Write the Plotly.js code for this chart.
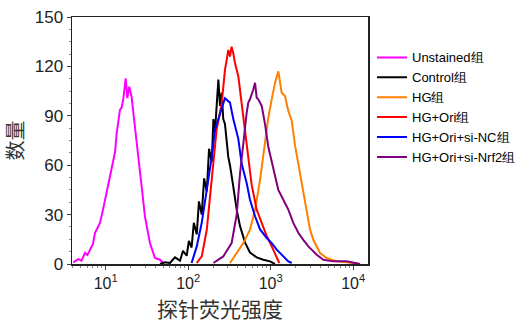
<!DOCTYPE html>
<html>
<head>
<meta charset="utf-8">
<script src="https://cdn.plot.ly/plotly-3.0.1.min.js"></script>
<style>
html,body{margin:0;padding:0;background:#fff;}
#chart{width:518px;height:325px;}
</style>
</head>
<body>
<div id="chart"></div>
<script>
// Series names
const seriesNames = ["Unstained组", "Control组", "HG组", "HG+Ori组", "HG+Ori+si-NC组", "HG+Ori+si-Nrf2组"];
const seriesColors = ["#ff00ff", "#000000", "#ff8000", "#ff0000", "#0000ff", "#800080"];

// X tick labels
const xTickVals = [10, 100, 1000, 10000];
const xTickText = ["10<sup>1</sup>", "10<sup>2</sup>", "10<sup>3</sup>", "10<sup>4</sup>"];
const xTitle = "探针荧光强度";
const yTitle = "数量";

// Unstained (magenta)
const unstainedX = [4.05, 4.66, 5.1, 5.61, 6.0, 6.45, 7.0, 7.42, 8.0, 8.53, 9.2, 9.81, 10.5, 11.3, 12.4, 13.0, 13.6, 14.9, 15.6, 16.3, 17.5, 18.3, 19.3, 20.6, 22.6, 24.8, 27.3, 29.9, 34.4, 39.6, 45.5, 49.9];
const unstainedY = [1, 3, 2, 6.7, 5.5, 8.7, 12, 18.8, 22, 24.9, 32, 39, 47, 55, 63, 68, 79.5, 93.6, 95, 99.7, 112.8, 100.7, 107.7, 101.7, 83.5, 63.3, 47, 28.9, 12.7, 3.6, 2.6, 0.6];

// Control (black)
const controlX = [45.5, 52.4, 60.1, 69.2, 79.6, 86.5, 95.9, 102, 110, 117, 127, 135, 146, 156, 168, 179, 193, 202, 211, 221, 232, 243, 255, 266, 279, 306, 321, 352, 387, 425, 489, 561, 676, 813, 981, 1127];
const controlY = [0, 1, 0.6, 4, 2, 8, 5, 14, 10, 25, 18, 38, 30, 52, 44, 70, 62, 88, 80, 100, 112, 96, 104, 88, 85, 65, 60, 47, 33, 23, 13, 7, 4, 2.6, 1.6, 0];

// HG (orange)
const hgX = [321, 387, 466, 561, 646, 743, 853, 936, 1028, 1127, 1237, 1358, 1489, 1634, 1798, 1972, 2265, 2606, 2993, 3283, 3963, 4775, 6310, 8337, 12080];
const hgY = [0.6, 6.7, 12.7, 20.8, 33, 51, 73, 89, 100, 110, 117, 104, 102, 93, 87, 72, 55, 37, 21, 14.7, 6.7, 3.6, 1.6, 1, 0];

// HG+Ori (red)
const hgOriX = [127, 146, 168, 184, 202, 221, 255, 279, 293, 306, 321, 336, 352, 369, 405, 444, 488, 535, 588, 676, 778, 895, 1028, 1183, 1271];
const hgOriY = [0.6, 4.6, 20.8, 41, 61, 81.5, 97.7, 117.9, 124, 130, 126, 132, 128, 122, 114, 97, 82, 65, 48, 33, 25, 17, 10.7, 4.6, 0.6];

// HG+Ori+si-NC (blue)
const siNCX = [110, 127, 146, 168, 193, 211, 243, 279, 321, 352, 405, 444, 512, 561, 646, 743, 895, 1028, 1183, 1422, 1634, 1798];
const siNCY = [0.6, 10.7, 25, 45, 65, 81.5, 91.6, 100.7, 98, 88, 76, 61, 49, 39, 29, 21, 15.8, 12.7, 8.7, 4.6, 1.6, 0.6];

// HG+Ori+si-Nrf2 (purple)
const siNrf2X = [202, 266, 336, 387, 425, 466, 512, 535, 561, 615, 646, 676, 708, 778, 853, 936, 1077, 1237, 1422, 1634, 1879, 2161, 2485, 2857, 3611, 4345, 5745, 8337, 12080];
const siNrf2Y = [0.6, 4.6, 12.7, 30, 55, 75, 92, 98, 100, 106, 110, 101, 100, 96, 85, 71, 57, 45, 39, 33, 25, 19, 14.7, 10.7, 5.6, 2.6, 1.6, 1.6, 0];

const xs = [unstainedX, controlX, hgX, hgOriX, siNCX, siNrf2X];
const ys = [unstainedY, controlY, hgY, hgOriY, siNCY, siNrf2Y];

const traces = seriesNames.map((n, i) => ({
  type: "scatter",
  mode: "lines",
  name: n,
  x: xs[i],
  y: ys[i],
  line: {color: seriesColors[i], width: 2}
}));

const font = "Liberation Sans, Arial, sans-serif";
const layout = {
  width: 518,
  height: 325,
  margin: {l: 72, r: 150, t: 17, b: 61, autoexpand: false},
  paper_bgcolor: "#fff",
  plot_bgcolor: "#fff",
  showlegend: true,
  legend: {
    x: 1.0135, xanchor: "left", y: 0.897, yanchor: "top",
    font: {family: font, size: 13, color: "#000"},
    bgcolor: "rgba(0,0,0,0)",
    itemwidth: 30,
    traceorder: "normal"
  },
  annotations: [{
    text: xTitle, xref: "paper", yref: "paper", x: 0.5, y: -0.178,
    xanchor: "center", yanchor: "middle", showarrow: false,
    font: {family: "Noto Sans CJK SC", size: 21, color: "#333"}
  }],
  xaxis: {
    type: "log",
    range: [0.592, 4.179],
    tickmode: "array",
    tickvals: xTickVals,
    ticktext: xTickText,
    showgrid: false,
    zeroline: false,
    showline: true, mirror: true, linecolor: "#222", linewidth: 1.5,
    ticks: "outside", ticklen: 4, tickcolor: "#444",
    minor: {ticks: "outside", ticklen: 2, tickcolor: "#888", dtick: "D1", showgrid: false},
    tickfont: {family: font, size: 16, color: "#222"}
  },
  yaxis: {
    range: [0, 150],
    dtick: 30,
    showgrid: false,
    zeroline: false,
    showline: true, mirror: true, linecolor: "#222", linewidth: 1.5,
    ticks: "outside", ticklen: 4, tickcolor: "#444",
    minor: {ticks: "outside", ticklen: 2, tickcolor: "#888", dtick: 7.5, showgrid: false},
    tickfont: {family: font, size: 17, color: "#222"},
    title: {text: yTitle, font: {family: "Noto Sans CJK SC", size: 20, color: "#333"}, standoff: 10}
  }
};

Plotly.newPlot("chart", traces, layout, {displayModeBar: false, staticPlot: true});
</script>
</body>
</html>
